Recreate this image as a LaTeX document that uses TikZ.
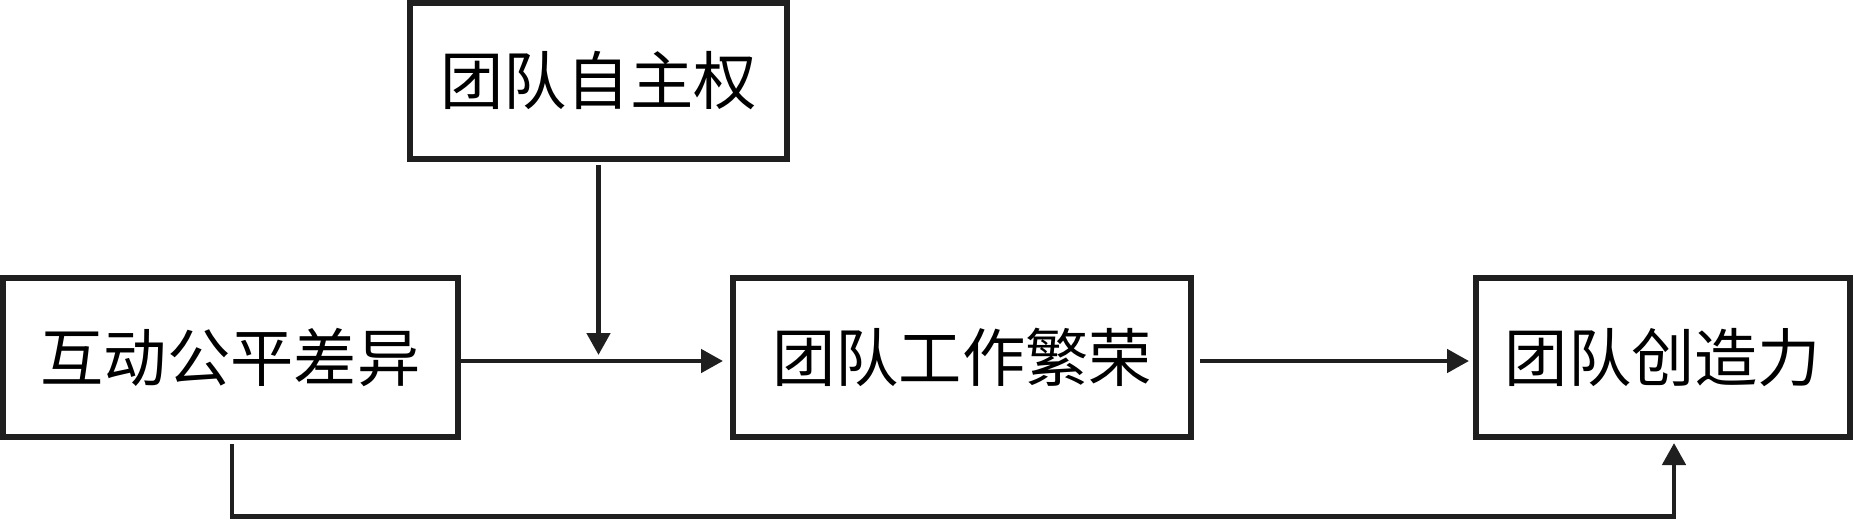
\documentclass[tikz,border=0pt]{standalone}
\usepackage{fontspec}
\newfontfamily\cjk{Noto Sans CJK SC}
\usetikzlibrary{positioning,arrows.meta,calc}

\begin{document}
\begin{tikzpicture}[
	box/.style={rectangle, draw=black!88, line width=0.06cm, minimum height=1.59cm, inner sep=0pt, font=\cjk\fontsize{18}{20}\selectfont},
	arr/.style={-{Triangle[length=0.22cm,width=0.23cm]}, line width=0.047cm, draw=black!88}
	]
	\useasboundingbox (0,0) rectangle (18.54,5.19);
	\node [box, minimum width=4.55cm] (fairness) at (2.305,1.615) {互动公平差异};
	\node [box, minimum width=4.58cm, right = 2.69cm of fairness] (thriving) {团队工作繁荣};
	\node [box, minimum width=3.74cm, right = 2.79cm of thriving] (creativity) {团队创造力};
	\node [box, minimum width=3.77cm, minimum height=1.56cm] (autonomy) at (5.985,4.38) {团队自主权};
	
	\coordinate (join) at ([yshift=-0.035cm]autonomy.south |- fairness.east);
	\coordinate (base) at (0,0.025);
	\coordinate (turn) at ([xshift=0.11cm]creativity.south |- base);
	\draw [arr, shorten >=0.07cm] ([yshift=-0.035cm]fairness.east) -- ([yshift=-0.035cm]thriving.west);
	\draw [arr, shorten <=0.03cm, shorten >=0.06cm] (autonomy.south) -- (join);
	\draw [arr, shorten <=0.06cm, shorten >=0.04cm] ([yshift=-0.035cm]thriving.east) -- ([yshift=-0.035cm]creativity.west);
	\draw [arr, shorten <=0.04cm, shorten >=0.03cm] ([xshift=0.015cm]fairness.south) |- (turn) -- (turn |- creativity.south);
\end{tikzpicture}
\end{document}
